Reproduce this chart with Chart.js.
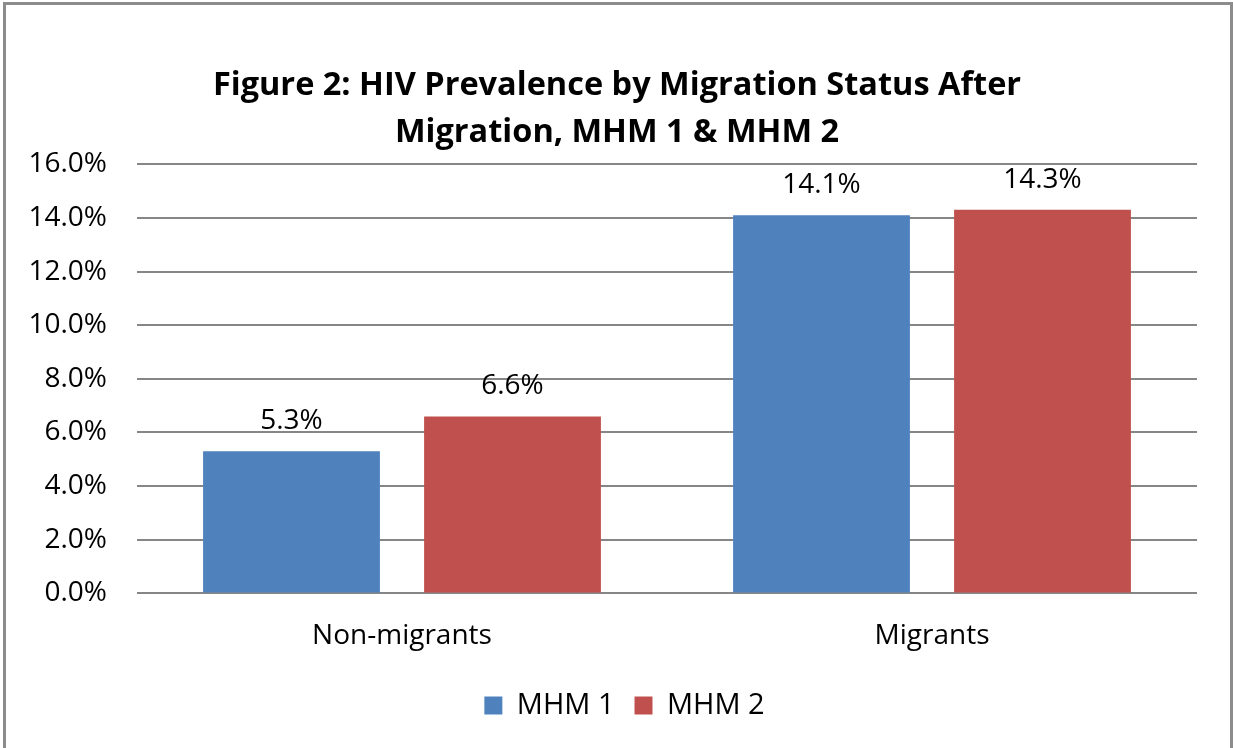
<!DOCTYPE html>
<html>
<head>
<meta charset="utf-8">
<script src="https://cdn.jsdelivr.net/npm/chart.js@4/dist/chart.umd.min.js"></script>
<style>
  html, body { margin: 0; padding: 0; background: #fff; overflow: hidden; }
  #wrap { position: relative; width: 1233px; height: 748px; }
  #frame { position: absolute; left: 3px; top: 2px; width: 1224px; height: 760px; border: 3px solid #8c8c8c; }
  canvas { position: absolute; left: 0; top: 0; }
</style>
</head>
<body>
<div id="wrap">
  <div id="frame"></div>
  <canvas id="chart" width="1233" height="748"></canvas>
</div>
<script>
// data
var categories = ['Non-migrants', 'Migrants'];
var seriesNames = ['MHM 1', 'MHM 2'];
var mhm1 = [5.3, 14.1];
var mhm2 = [6.6, 14.3];
var yTicks = [0, 2, 4, 6, 8, 10, 12, 14, 16];

var FONT = '"Open Sans", "Liberation Sans", sans-serif';

// draws the value above each bar
var barLabels = {
  id: 'barLabels',
  afterDatasetsDraw: function(chart) {
    var ctx = chart.ctx;
    ctx.save();
    ctx.font = '28px ' + FONT;
    ctx.fillStyle = '#000';
    ctx.textAlign = 'center';
    ctx.textBaseline = 'bottom';
    chart.data.datasets.forEach(function(ds, i) {
      chart.getDatasetMeta(i).data.forEach(function(bar, j) {
        ctx.fillText(ds.data[j].toFixed(1) + '%', bar.x, bar.y - 16);
      });
    });
    ctx.restore();
  }
};

// title and legend sit centred on the whole frame, not just left of the right padding
var centreBoxes = {
  id: 'centreBoxes',
  afterLayout: function(chart) {
    [[chart.titleBlock, 18.5], [chart.legend, 26]].forEach(function(p) {
      if (p[0]) { p[0].left += p[1]; p[0].right += p[1]; }
    });
  }
};

new Chart(document.getElementById('chart'), {
  type: 'bar',
  data: {
    labels: categories,
    datasets: [
      { label: seriesNames[0], data: mhm1, backgroundColor: '#4F81BD', borderWidth: 0 },
      { label: seriesNames[1], data: mhm2, backgroundColor: '#C0504D', borderWidth: 0 }
    ]
  },
  options: {
    responsive: false,
    animation: false,
    layout: { padding: { left: 0, right: 36, top: 62, bottom: 18 } },
    datasets: { bar: { categoryPercentage: 0.834, barPercentage: 0.8 } },
    plugins: {
      title: {
        display: true,
        text: ['Figure 2: HIV Prevalence by Migration Status After', 'Migration, MHM 1 & MHM 2'],
        color: '#000',
        font: { family: FONT, size: 32.5, weight: 'bold', lineHeight: 1.45 },
        padding: { top: 0, bottom: 8 }
      },
      legend: {
        position: 'bottom',
        labels: {
          color: '#000',
          font: { family: FONT, size: 29 },
          boxWidth: 18,
          boxHeight: 18,
          padding: 20
        }
      },
      tooltip: { enabled: false }
    },
    scales: {
      x: {
        grid: { display: false },
        border: { display: false },
        ticks: { color: '#000', font: { family: FONT, size: 28 }, padding: 18 }
      },
      y: {
        min: 0,
        max: 16,
        afterBuildTicks: function(axis) {
          axis.ticks = yTicks.map(function(v) { return { value: v }; });
        },
        afterFit: function(axis) { axis.width = 137; },
        grid: { color: '#868686', lineWidth: 2, drawTicks: false },
        border: { display: false },
        ticks: {
          color: '#000',
          font: { family: FONT, size: 28 },
          padding: 30,
          callback: function(v) { return v.toFixed(1) + '%'; }
        }
      }
    }
  },
  plugins: [barLabels, centreBoxes]
});
</script>
</body>
</html>
